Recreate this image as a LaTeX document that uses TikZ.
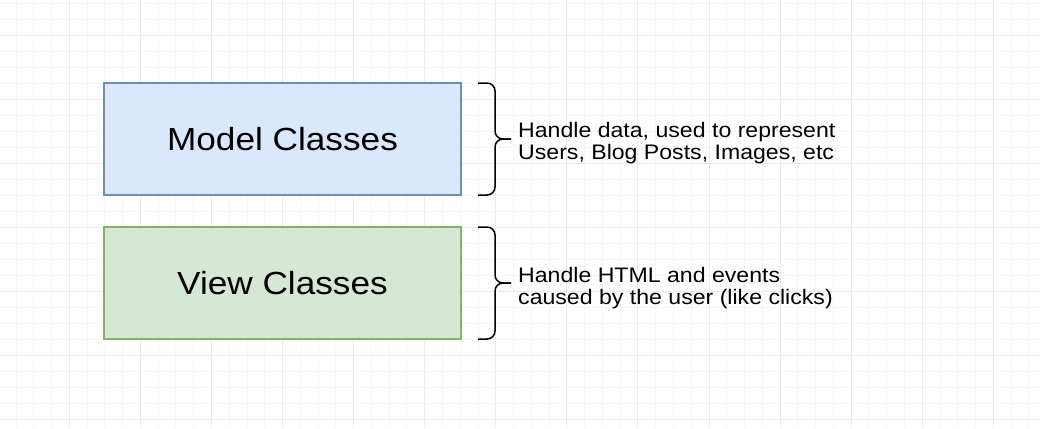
\documentclass[tikz,border=0pt]{standalone}
\usepackage{fontspec}
\setmainfont{Liberation Sans}
\usepackage{graphicx}
\definecolor{gridminor}{HTML}{F6F6F6}
\definecolor{gridmajor}{HTML}{EBEBEB}
\definecolor{modelfill}{HTML}{DAE8FC}
\definecolor{modeldraw}{HTML}{6C8EBF}
\definecolor{viewfill}{HTML}{D5E8D4}
\definecolor{viewdraw}{HTML}{82B366}
% slightly widened lettering
\newcommand{\widetext}[1]{\scalebox{1.1}[1]{#1}}

\begin{document}
\begin{tikzpicture}[x=1pt,y=-1pt,
  classbox/.style={draw, line width=1.5pt, minimum width=357pt, minimum height=112pt,
    inner sep=0pt, font=\fontsize{32}{38}\selectfont},
  note/.style={anchor=base west, inner sep=0pt, font=\fontsize{21}{22}\selectfont},
  brace/.style={line width=1.5pt, rounded corners=8pt},
  minorline/.style={draw=gridminor, line width=1pt},
  majorline/.style={draw=gridmajor, line width=1pt}]

  % page and background
  \fill[white] (0,0) rectangle (1040,428);
  \useasboundingbox (0,0) rectangle (1040,428);

  % background grid
  \foreach \k in {0,...,57} {
    \pgfmathsetmacro\gx{16+17.77*\k}
    \draw[minorline] (\gx,0) -- (\gx,428);
  }
  \foreach \k in {0,...,26} {
    \pgfmathsetmacro\gy{3.3+16*\k}
    \draw[minorline] (0,\gy) -- (1040,\gy);
  }
  \foreach \k in {0,...,14} {
    \pgfmathsetmacro\gx{69.3+71.08*\k}
    \draw[majorline] (\gx,0) -- (\gx,428);
  }
  \foreach \k in {0,...,6} {
    \pgfmathsetmacro\gy{35.3+64*\k}
    \draw[majorline] (0,\gy) -- (1040,\gy);
  }

  % class boxes
  \node[classbox, draw=modeldraw, fill=modelfill] (model) at (282.5,139) {\widetext{Model Classes}};
  \node[classbox, draw=viewdraw, fill=viewfill] (view) at (282.5,283) {\widetext{View Classes}};

  % braces
  \coordinate (mtop) at (478,83);
  \coordinate (mtip) at (511,139);
  \coordinate (mbot) at (478,195);
  \draw[brace] (mtop) -- (495,83) -- (495,139) -- (mtip);
  \draw[brace] (mtip) -- (495,139) -- (495,195) -- (mbot);

  \coordinate (vtop) at (478,227);
  \coordinate (vtip) at (511,283);
  \coordinate (vbot) at (478,339);
  \draw[brace] (vtop) -- (495,227) -- (495,283) -- (vtip);
  \draw[brace] (vtip) -- (495,283) -- (495,339) -- (vbot);

  % descriptions
  \node[note] (modelnote) at (518,137) {\widetext{\begin{tabular}[t]{@{}l@{}}Handle data, used to represent\\Users, Blog Posts, Images, etc\end{tabular}}};
  \node[note] (viewnote) at (518,282) {\widetext{\begin{tabular}[t]{@{}l@{}}Handle HTML and events\\caused by the user (like clicks)\end{tabular}}};
\end{tikzpicture}
\end{document}
